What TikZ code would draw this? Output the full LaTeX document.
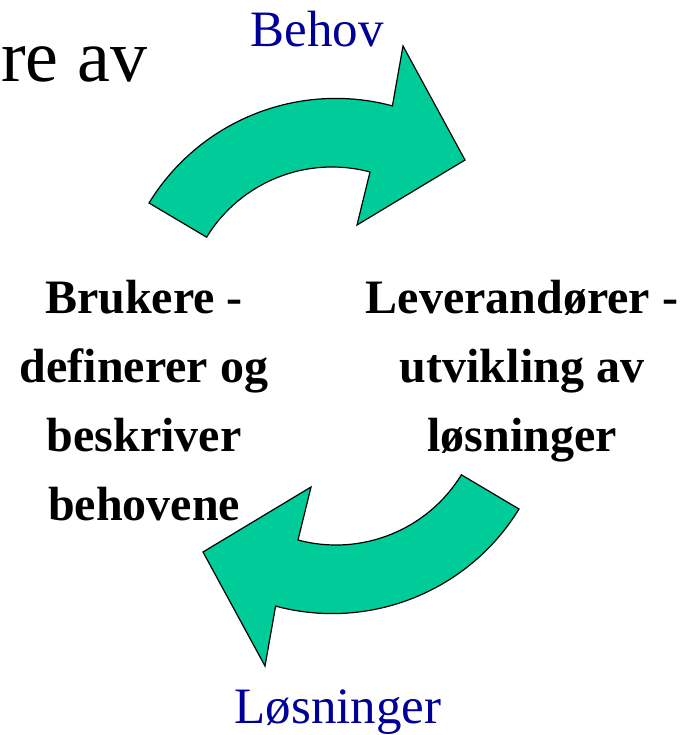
\documentclass[tikz,border=0pt]{standalone}
\usepackage{fontspec}
\setmainfont{Liberation Serif}
\usetikzlibrary{positioning}

\definecolor{sweepgreen}{RGB}{0,204,153}
\definecolor{labelblue}{RGB}{0,0,153}

\begin{document}
\begin{tikzpicture}[x=1pt, y=-1pt,
        sweep/.style={fill=sweepgreen, draw=black, line width=1.2pt, line join=miter},
        side/.style={font=\bfseries\fontsize{48}{69}\selectfont, align=center, anchor=base},
        flow/.style={font=\fontsize{51}{60}\selectfont, text=labelblue, anchor=base, inner sep=0pt}]
    \useasboundingbox (0,0) rectangle (692,735);

    % cut-off title
    \node[anchor=base west, inner sep=0pt, font=\fontsize{74}{80}\selectfont] (title) at (1,82) {re av};

    % upper sweep: users -> suppliers
    \draw[sweep] (149,203) arc[start angle=-148.5, end angle=-75, radius=219]
        -- (403,46) -- (465,160) -- (357,225) -- (370,172)
        arc[start angle=-75, end angle=-148.5, radius=147] -- cycle;

    % lower sweep: same shape turned round the middle
    \begin{scope}[rotate around={180:(334,356)}]
        \draw[sweep] (149,203) arc[start angle=-148.5, end angle=-75, radius=219]
            -- (403,46) -- (465,160) -- (357,225) -- (370,172)
            arc[start angle=-75, end angle=-148.5, radius=147] -- cycle;
    \end{scope}

    % labels on the sweeps
    \node[flow] (behov) at (317,47) {Behov};
    \node[flow] (losninger) at (338,723) {Løsninger};

    % the two parties (base = last line)
    \node[side] (brukere) at (144,520) {Brukere -\\definerer og\\beskriver\\behovene};
    \node[side] (leverandorer) at (522,451) {Leverandører -\\utvikling av\\løsninger};
\end{tikzpicture}
\end{document}
